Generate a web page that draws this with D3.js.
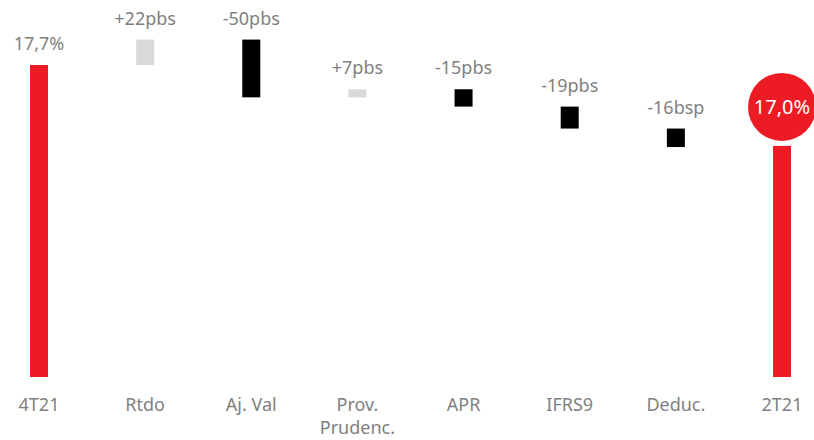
<!DOCTYPE html>
<html>
<head>
<meta charset="utf-8">
<script src="https://cdn.jsdelivr.net/npm/d3@7"></script>
<style>
  body { margin: 0; background: #fff; }
  svg text { font-family: "Noto Sans", sans-serif; }
</style>
</head>
<body>
<div class="chart"></div>
<script>
// categories and values (in % and basis points)
var categories = ["4T21", "Rtdo", "Aj. Val", "Prov.\nPrudenc.", "APR", "IFRS9", "Deduc.", "2T21"];
var startValue = 17.7;
var endValue = 17.0;
var changesBp = [22, -50, 7, -15, -19, -16];
var valueLabels = ["17,7%", "+22pbs", "-50pbs", "+7pbs", "-15pbs", "-19pbs", "-16bsp", "17,0%"];

var width = 814, height = 440;

var svg = d3.select(".chart").append("svg")
  .attr("width", width)
  .attr("height", height);

// build waterfall rows
var rows = [];
rows.push({ cat: categories[0], y0: 15, y1: startValue, type: "total", label: valueLabels[0] });
var running = startValue;
changesBp.forEach(function(c, i) {
  var next = running + c / 100;
  rows.push({ cat: categories[i + 1], y0: running, y1: next, type: c >= 0 ? "up" : "down", label: valueLabels[i + 1] });
  running = next;
});
rows.push({ cat: categories[7], y0: 15, y1: endValue, type: "end", label: valueLabels[7] });

var x = d3.scalePoint()
  .domain(categories)
  .range([39, 782]);

// axis is broken: baseline sits at 15%
var y = d3.scaleLinear()
  .domain([15, startValue])
  .range([377, 65]);

var colors = { total: "#ED1C24", end: "#ED1C24", up: "#D9D9D9", down: "#000000" };
var barW = 18;

svg.selectAll("rect.bar")
  .data(rows)
  .enter()
  .append("rect")
  .attr("class", "bar")
  .attr("x", d => x(d.cat) - barW / 2)
  .attr("y", d => y(Math.max(d.y0, d.y1)))
  .attr("width", barW)
  .attr("height", d => Math.abs(y(d.y0) - y(d.y1)))
  .attr("fill", d => colors[d.type]);

// value labels above each bar (except final, which gets a bubble)
svg.selectAll("text.val")
  .data(rows.filter(d => d.type != "end"))
  .enter()
  .append("text")
  .attr("class", "val")
  .attr("x", d => x(d.cat))
  .attr("y", d => y(Math.max(d.y0, d.y1)) - 15)
  .attr("text-anchor", "middle")
  .attr("font-size", 18)
  .attr("fill", "#7F7F7F")
  .text(d => d.label);

// bubble on the last bar
var last = rows[rows.length - 1];
var cx = x(last.cat), cy = y(last.y1) - 39;
svg.append("circle")
  .attr("cx", cx)
  .attr("cy", cy)
  .attr("r", 34)
  .attr("fill", "#ED1C24");
svg.append("text")
  .attr("x", cx)
  .attr("y", cy + 7)
  .attr("text-anchor", "middle")
  .attr("font-size", 20)
  .attr("fill", "#fff")
  .text(last.label);

// category labels
var catText = svg.selectAll("text.cat")
  .data(categories)
  .enter()
  .append("text")
  .attr("class", "cat")
  .attr("x", d => x(d))
  .attr("y", 411)
  .attr("text-anchor", "middle")
  .attr("font-size", 18)
  .attr("fill", "#7F7F7F");

catText.selectAll("tspan")
  .data(d => d.split("\n").map(t => ({ t: t, cx: x(d) })))
  .enter()
  .append("tspan")
  .attr("x", d => d.cx)
  .attr("dy", (d, i) => i == 0 ? 0 : 23)
  .text(d => d.t);
</script>
</body>
</html>
